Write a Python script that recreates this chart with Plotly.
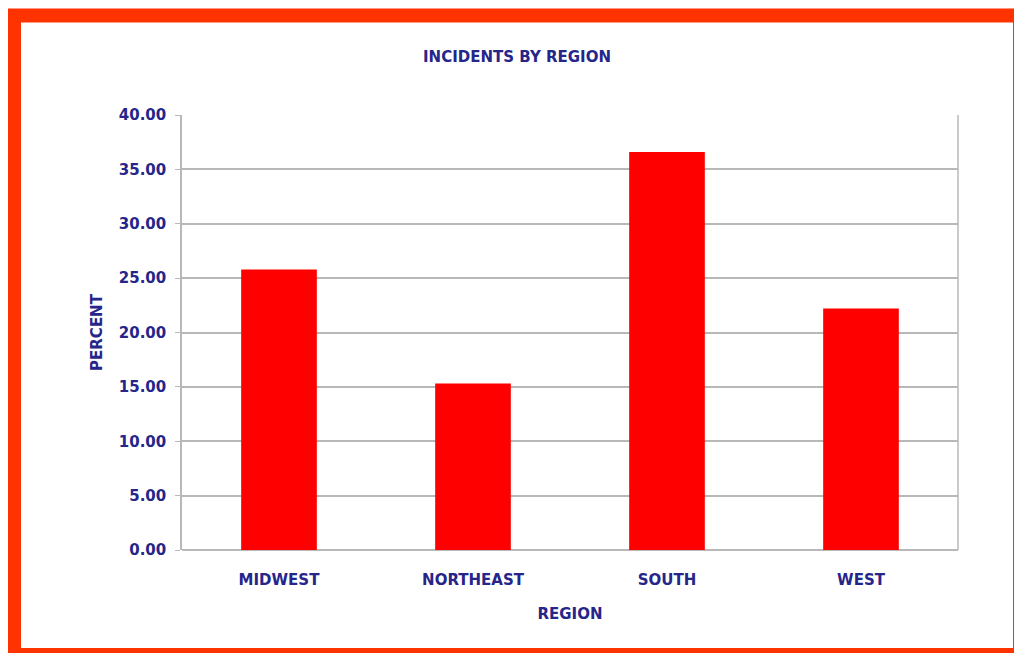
import plotly.graph_objects as go

regions = ["MIDWEST", "NORTHEAST", "SOUTH", "WEST"]
percent = [25.8, 15.3, 36.6, 22.2]
y_ticks = [0, 5, 10, 15, 20, 25, 30, 35, 40]
y_tick_labels = ["%.2f" % t for t in y_ticks]

NAVY = "#25258a"
GRID = "#b8b8b8"
FONT = "DejaVu Sans"

# the page body adds an 8px margin, so the figure is laid out 8px smaller
OFF = 8
FIG_W, FIG_H = 1022 - OFF, 653 - OFF
# plot area in page pixels: x 182..958, y 115..550
L, R, T, B = 182 - OFF, 958 - OFF, 115 - OFF, 550 - OFF
W, H = R - L, B - T


def px_x(p):
    return (p - OFF - L) / W


def px_y(p):
    return (B - (p - OFF)) / H


fig = go.Figure(go.Bar(
    x=regions,
    y=percent,
    marker=dict(color="#ff0000", line=dict(width=0)),
))

fig.update_layout(
    width=FIG_W, height=FIG_H,
    margin={"l": L, "r": FIG_W - R, "t": T, "b": FIG_H - B},
    paper_bgcolor="white",
    plot_bgcolor="white",
    bargap=0.61,
    showlegend=False,
    font=dict(family=FONT, color=NAVY, size=15),
    title=dict(text="<b>INCIDENTS BY REGION</b>", xref="container",
               x=(517 - OFF) / FIG_W, xanchor="center",
               y=1 - (57 - OFF) / FIG_H, yanchor="middle",
               font=dict(family=FONT, size=15, color=NAVY)),
    shapes=[
        # orange-red frame around the picture
        dict(type="rect", xref="paper", yref="paper",
             x0=px_x(14), x1=px_x(1020), y0=px_y(655), y1=px_y(15.5),
             line=dict(color="#ff3300", width=14), fillcolor="rgba(0,0,0,0)",
             layer="above"),
        # right border of the plot area
        dict(type="line", xref="paper", yref="paper", x0=1, x1=1, y0=0, y1=1,
             line=dict(color=GRID, width=1.5), layer="below"),
    ],
)

fig.update_xaxes(
    showline=False, showgrid=False,
    tickfont=dict(family=FONT, size=15, color=NAVY),
    tickprefix="<b>", ticksuffix="</b>",
    ticklabelstandoff=19,
    title=dict(text="<b>REGION</b>", standoff=20,
               font=dict(family=FONT, size=15, color=NAVY)),
)
fig.update_yaxes(
    range=[0, 40], tickvals=y_ticks,
    ticktext=["<b>%s</b>" % t for t in y_tick_labels],
    showgrid=True, gridcolor=GRID, gridwidth=1.5,
    zeroline=True, zerolinecolor=GRID, zerolinewidth=1.5,
    showline=True, linecolor=GRID, linewidth=1.5,
    ticks="outside", ticklen=5, tickcolor=GRID,
    tickfont=dict(family=FONT, size=15, color=NAVY),
    ticklabelstandoff=6,
    title=dict(text="<b>PERCENT</b>", standoff=13,
               font=dict(family=FONT, size=15, color=NAVY)),
)

fig.write_html("out.html")
